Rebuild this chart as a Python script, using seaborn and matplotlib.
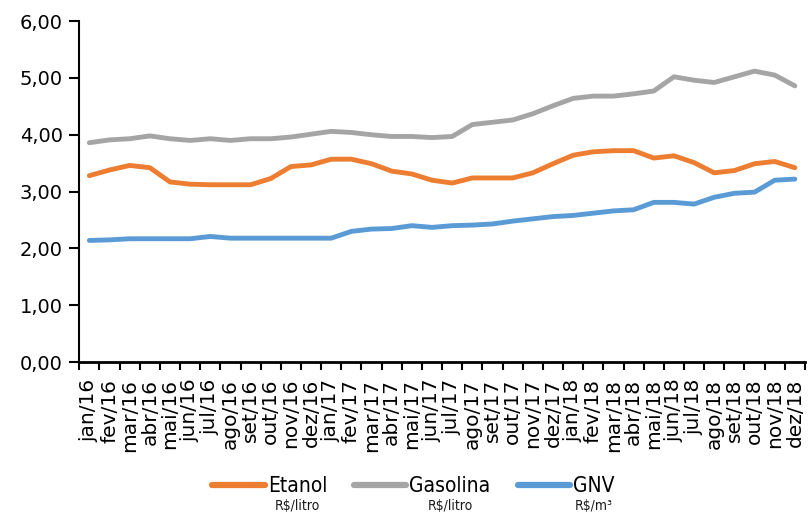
import numpy as np
import pandas as pd
import matplotlib
matplotlib.use("Agg")
import matplotlib.pyplot as plt
from matplotlib.font_manager import FontProperties
import seaborn as sns

months = ["jan", "fev", "mar", "abr", "mai", "jun", "jul", "ago", "set", "out", "nov", "dez"]
labels = [f"{m}/{y}" for y in ["16", "17", "18"] for m in months]

etanol = [3.28, 3.38, 3.46, 3.42, 3.17, 3.13, 3.12, 3.12, 3.12, 3.23, 3.44, 3.47,
          3.57, 3.57, 3.49, 3.36, 3.31, 3.20, 3.15, 3.24, 3.24, 3.24, 3.33, 3.49,
          3.64, 3.70, 3.72, 3.72, 3.59, 3.63, 3.51, 3.33, 3.37, 3.49, 3.53, 3.42]
gasolina = [3.86, 3.91, 3.93, 3.98, 3.93, 3.90, 3.93, 3.90, 3.93, 3.93, 3.96, 4.01,
            4.06, 4.04, 4.00, 3.97, 3.97, 3.95, 3.97, 4.18, 4.22, 4.26, 4.37, 4.51,
            4.64, 4.68, 4.68, 4.72, 4.77, 5.02, 4.96, 4.92, 5.02, 5.12, 5.05, 4.86]
gnv = [2.14, 2.15, 2.17, 2.17, 2.17, 2.17, 2.21, 2.18, 2.18, 2.18, 2.18, 2.18,
       2.18, 2.30, 2.34, 2.35, 2.40, 2.37, 2.40, 2.41, 2.43, 2.48, 2.52, 2.56,
       2.58, 2.62, 2.66, 2.68, 2.81, 2.81, 2.78, 2.90, 2.97, 2.99, 3.20, 3.22]

series_names = ["Etanol", "Gasolina", "GNV"]
units = ["R$/litro", "R$/litro", "R$/m³"]
colors = ["#ED7D31", "#A5A5A5", "#5B9BD5"]

df = pd.DataFrame({"idx": np.arange(len(labels)), "Etanol": etanol,
                   "Gasolina": gasolina, "GNV": gnv})
long = df.melt(id_vars="idx", var_name="Combustível", value_name="Preço")

sns.set_theme(style="white")
plt.rcParams["font.family"] = ["DejaVu Sans"]
plt.rcParams["text.color"] = "black"

leg_font = FontProperties(family="DejaVu Sans", stretch="condensed", size=15)
unit_font = FontProperties(family="DejaVu Sans", stretch="condensed", size=10)

fig = plt.figure(figsize=(8.09, 5.15), dpi=100)
ax = fig.add_axes([0.098, 0.297, 0.897, 0.662])

sns.lineplot(data=long, x="idx", y="Preço", hue="Combustível",
             palette=dict(zip(series_names, colors)), linewidth=3.5, ax=ax)

ax.set_xlim(-0.5, len(labels) - 0.5)
ax.set_ylim(0, 6)
ax.set_yticks(np.arange(0, 7, 1))
ax.set_yticklabels([f"{v:.2f}".replace(".", ",") for v in range(7)], fontsize=14)
ax.set_xticks(np.arange(len(labels)))
ax.set_xticklabels(labels, rotation=90, fontsize=14.5)
ax.set_xticks(np.arange(-0.5, len(labels)), minor=True)
ax.tick_params(axis="x", which="major", length=0, pad=12, labelcolor="black")
ax.tick_params(axis="x", which="minor", length=6, width=1.5, color="black", direction="out", bottom=True)
ax.tick_params(axis="y", which="major", length=7, width=1.5, color="black", direction="out",
               left=True, pad=5, labelcolor="black")
ax.set_xlabel("")
ax.set_ylabel("")
for side in ["top", "right"]:
    ax.spines[side].set_visible(False)
ax.spines["left"].set_color("black")
ax.spines["left"].set_linewidth(1.5)
ax.spines["bottom"].set_color("black")
ax.spines["bottom"].set_linewidth(2)

leg = ax.legend(loc="center", bbox_to_anchor=(0.511, 0.056), bbox_transform=fig.transFigure,
                ncol=3, frameon=False, handlelength=2.5, handletextpad=0.15,
                columnspacing=1.3, prop=leg_font)
for line in leg.get_lines():
    line.set_linewidth(4.5)

fig.canvas.draw()
inv = fig.transFigure.inverted()
for txt, unit in zip(leg.get_texts(), units):
    bb = txt.get_window_extent()
    x0, y0 = inv.transform((bb.x0 + bb.width / 2, bb.y0))
    fig.text(x0, y0 - 0.006, unit, ha="center", va="top",
             fontproperties=unit_font, color="#1a1a1a")

fig.savefig("out.png", dpi=100)
